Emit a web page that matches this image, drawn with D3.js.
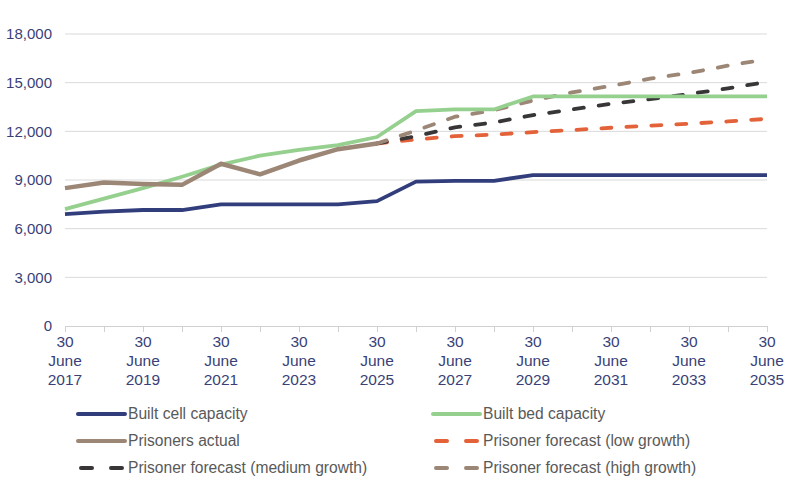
<!DOCTYPE html>
<html lang="en">
<head>
    <meta charset="UTF-8">
    <title>Prison capacity and population</title>
    <script src="https://d3js.org/d3.v7.min.js"></script>
    <style>
        body { margin: 0; background: #fff; }
        svg { font-family: "Liberation Sans", Arial, Helvetica, sans-serif; }
    </style>
</head>
<body>
<script>
    // Data (years ending 30 June)
    const years = d3.range(2017, 2036);
    const cellCapacity = [6900, 7050, 7150, 7150, 7500, 7500, 7500, 7500, 7700, 8900, 8950, 8950, 9300, 9300, 9300, 9300, 9300, 9300, 9300];
    const bedCapacity = [7200, 7850, 8500, 9200, 9950, 10500, 10850, 11150, 11650, 13250, 13350, 13350, 14150, 14150, 14150, 14150, 14150, 14150, 14150];
    const actualYears = d3.range(2017, 2026);
    const prisonersActual = [8500, 8850, 8750, 8700, 10000, 9350, 10200, 10900, 11250];
    const forecastYears = d3.range(2025, 2036);
    const forecastLow = [11250, 11500, 11700, 11800, 11950, 12080, 12220, 12350, 12470, 12610, 12770];
    const forecastMedium = [11250, 11700, 12250, 12550, 13000, 13350, 13700, 13980, 14300, 14650, 15050];
    const forecastHigh = [11250, 12050, 12900, 13300, 13900, 14400, 14800, 15250, 15600, 16050, 16450];
    const yTicks = [0, 3000, 6000, 9000, 12000, 15000, 18000];

    const series = [
        { name: "Built cell capacity", x: years, y: cellCapacity, color: "#323d7c", dash: null, width: 3.8 },
        { name: "Built bed capacity", x: years, y: bedCapacity, color: "#95d08f", dash: null, width: 3.8 },
        { name: "Prisoners actual", x: actualYears, y: prisonersActual, color: "#9c8675", dash: null, width: 4.5 },
        { name: "Prisoner forecast (low growth)", x: forecastYears, y: forecastLow, color: "#e4623a", dash: "10,15", width: 3.8 },
        { name: "Prisoner forecast (medium growth)", x: forecastYears, y: forecastMedium, color: "#393637", dash: "10,15", width: 3.8 },
        { name: "Prisoner forecast (high growth)", x: forecastYears, y: forecastHigh, color: "#9c8675", dash: "10,15", width: 3.8 }
    ];

    const width = 792, height = 491;
    const margin = { left: 65, right: 25, top: 34, bottom: 165 };

    const svg = d3.select("body").append("svg")
        .attr("width", width)
        .attr("height", height);

    const x = d3.scaleLinear().domain([2017, 2035]).range([margin.left, width - margin.right]);
    const y = d3.scaleLinear().domain([0, 18000]).range([height - margin.bottom, margin.top]);

    // Gridlines
    svg.append("g")
        .selectAll("line")
        .data(yTicks.filter(d => d > 0))
        .join("line")
        .attr("x1", x(2017)).attr("x2", x(2035))
        .attr("y1", d => y(d)).attr("y2", d => y(d))
        .attr("stroke", "#d9d9d9").attr("stroke-width", 1);

    // Y axis labels
    svg.append("g")
        .selectAll("text")
        .data(yTicks)
        .join("text")
        .attr("x", 52)
        .attr("y", d => y(d))
        .attr("dy", "0.35em")
        .attr("text-anchor", "end")
        .attr("font-size", 15)
        .attr("fill", "#3a3f78")
        .text(d => d3.format(",")(d));

    // X axis
    const xAxis = svg.append("g")
        .attr("transform", `translate(0,${y(0)})`)
        .call(d3.axisBottom(x).tickValues(years).tickSize(6).tickFormat(""));
    xAxis.select(".domain").attr("stroke", "#d0d0d0");
    xAxis.selectAll(".tick line").attr("stroke", "#d0d0d0");

    const labelYears = years.filter(d => (d - 2017) % 2 === 0);
    const xl = svg.append("g")
        .selectAll("text")
        .data(labelYears)
        .join("text")
        .attr("x", d => x(d))
        .attr("y", y(0) + 21)
        .attr("text-anchor", "middle")
        .attr("font-size", 15.5)
        .attr("fill", "#3a3f78");
    xl.append("tspan").attr("x", d => x(d)).text("30");
    xl.append("tspan").attr("x", d => x(d)).attr("dy", 19).text("June");
    xl.append("tspan").attr("x", d => x(d)).attr("dy", 19).text(d => d);

    // Lines: forecasts underneath, actuals and capacities on top
    const drawOrder = [3, 4, 5, 1, 0, 2];
    drawOrder.forEach(i => {
        const s = series[i];
        const line = d3.line().x((d, j) => x(s.x[j])).y(d => y(d));
        svg.append("path")
            .datum(s.y)
            .attr("d", line)
            .attr("fill", "none")
            .attr("stroke", s.color)
            .attr("stroke-width", s.width)
            .attr("stroke-linejoin", "round")
            .attr("stroke-linecap", s.dash ? "round" : "butt")
            .attr("stroke-dasharray", s.dash);
    });

    // Legend
    const legend = svg.append("g");
    series.forEach((s, i) => {
        const col = i % 2, row = Math.floor(i / 2);
        const lx = col === 0 ? 78 : 433;
        const ly = 414 + row * 27;
        const g = legend.append("g");
        if (s.dash) {
            g.append("line").attr("x1", lx + 3).attr("x2", lx + 44).attr("y1", ly).attr("y2", ly)
                .attr("stroke", s.color).attr("stroke-width", 4)
                .attr("stroke-linecap", "round").attr("stroke-dasharray", "11,19");
        } else {
            g.append("line").attr("x1", lx).attr("x2", lx + 47).attr("y1", ly).attr("y2", ly)
                .attr("stroke", s.color).attr("stroke-width", 4)
                .attr("stroke-linecap", "round");
        }
        g.append("text")
            .attr("x", lx + 50)
            .attr("y", ly)
            .attr("dy", "0.35em")
            .attr("font-size", 15.6)
            .attr("fill", "#595959")
            .text(s.name);
    });
</script>
</body>
</html>
